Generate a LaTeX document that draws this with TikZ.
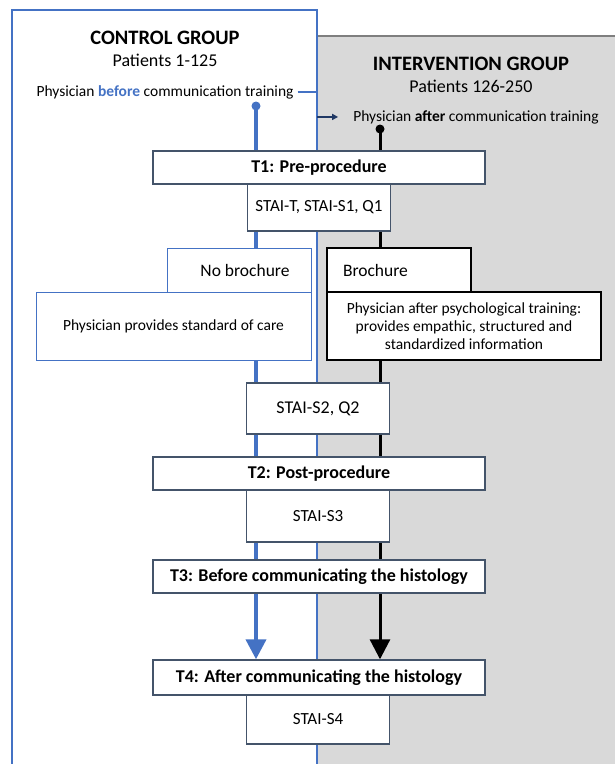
\documentclass[tikz,border=0pt]{standalone}
\usepackage{fontspec}
\setmainfont{Carlito}
\usetikzlibrary{arrows.meta}
\definecolor{ctrlblue}{HTML}{4472C4}
\definecolor{boxline}{HTML}{44546A}
\definecolor{navy}{HTML}{203864}
\definecolor{graybg}{HTML}{D9D9D9}
\definecolor{grayedge}{HTML}{7F7F7F}
\pgfdeclarelayer{back}
\pgfdeclarelayer{lines}
\pgfsetlayers{back,lines,main}
\begin{document}
\begin{tikzpicture}[x=1pt,y=-1pt,
  box/.style={draw=boxline, line width=1.4pt, fill=white, inner sep=0pt, align=center},
  bluebox/.style={draw=ctrlblue, line width=1pt, fill=white, inner sep=0pt, align=center},
  blackbox/.style={draw=black, line width=1.2pt, fill=white, inner sep=0pt, align=center},
  tfont/.style={font=\fontsize{18}{21}\selectfont\bfseries},
  rfont/.style={font=\fontsize{15.5}{18}\selectfont},
  sfont/.style={font=\fontsize{17}{20}\selectfont},
  title/.style={font=\fontsize{20.5}{24}\selectfont\bfseries, anchor=base, inner sep=0pt},
  sub/.style={font=\fontsize{18}{22}\selectfont, anchor=base, inner sep=0pt},
  phys/.style={font=\fontsize{15.5}{18}\selectfont, anchor=base, inner sep=0pt},
  tbox/.style={box, tfont, minimum width=332pt},
  sbox/.style={box, sfont, minimum width=143pt}
]
\useasboundingbox (0,0) rectangle (614,764);

% backgrounds
\begin{pgfonlayer}{back}
  \fill[graybg] (318,36) rectangle (620,780);
  \draw[grayedge, line width=1.5pt] (318,36) -- (620,36);
  \draw[ctrlblue, line width=2.5pt] (12,790) -- (12,10) -- (317,10) -- (317,790);
\end{pgfonlayer}

\coordinate (frameR) at (317,0);
\coordinate (bdot) at (256,106);
\coordinate (kdot) at (380,129);

% headings
\node[title] (ctrltitle) at (165,44) {CONTROL GROUP};
\node[sub] (ctrlsub) at (165,66) {Patients 1-125};
\node[phys] (ctrlphys) at (165,96) {Physician \textbf{\color{ctrlblue}before} communication training};
\node[title] (inttitle) at (471,70.5) {INTERVENTION GROUP};
\node[sub] (intsub) at (471,92.5) {Patients 126-250};
\node[phys] (intphys) at (476,121) {Physician \textbf{after} communication training};

% boxes
\node[tbox, minimum height=33pt] (t1) at (319,167.5) {T1: Pre-procedure};
\node[sbox, minimum height=47pt] (s1) at (319,207.5) {STAI-T, STAI-S1, Q1};
\node[bluebox, sfont, font=\fontsize{17.5}{20}\selectfont, minimum width=144pt, minimum height=44pt] (nobro) at (239,270) {\hspace*{12pt}No brochure};
\node[bluebox, rfont, minimum width=275pt, minimum height=68pt] (physstd) at (173.5,326) {Physician provides standard of care};
\node[blackbox, font=\fontsize{17.5}{20}\selectfont, minimum width=144pt, minimum height=44pt, text width=112pt, align=left] (bro) at (399,270) {Brochure};
\node[blackbox, rfont, minimum width=274pt, minimum height=68pt] (physaft) at (464,326)
  {Physician after psychological training:\\provides empathic, structured and\\standardized information};
\node[sbox, font=\fontsize{18}{21}\selectfont, minimum height=51pt] (s2) at (318,408.5) {STAI-S2, Q2};
\node[tbox, minimum height=33pt] (t2) at (319,473.5) {T2: Post-procedure};
\node[sbox, minimum height=52pt] (s3) at (318,516) {STAI-S3};
\node[tbox, minimum height=33pt] (t3) at (319,576.5) {T3: Before communicating the histology};
\node[tbox, minimum height=35pt] (t4) at (319,677.5) {T4: After communicating the histology};
\node[sbox, minimum height=49pt] (s4) at (318,719.5) {STAI-S4};

% flow lines
\begin{pgfonlayer}{lines}
  \draw[ctrlblue, line width=4pt, -{Triangle[width=20pt,length=20pt]}] (bdot) -- (t4.north -| bdot);
  \fill[ctrlblue] (bdot) circle (4.5pt);
  \draw[black, line width=3pt, -{Triangle[width=20pt,length=20pt]}] (kdot) -- (t4.north -| kdot);
  \fill[black] (kdot) circle (4.5pt);
  \draw[ctrlblue, line width=2pt, shorten <=4pt] (ctrlphys.east) -- (ctrlphys.east -| frameR) -- (frameR |- intphys.west);
  \draw[navy, line width=1.6pt, shorten >=15pt, -{Triangle[width=6pt,length=6pt]}] (frameR |- intphys.west) -- (intphys.west);
\end{pgfonlayer}
\end{tikzpicture}
\end{document}
